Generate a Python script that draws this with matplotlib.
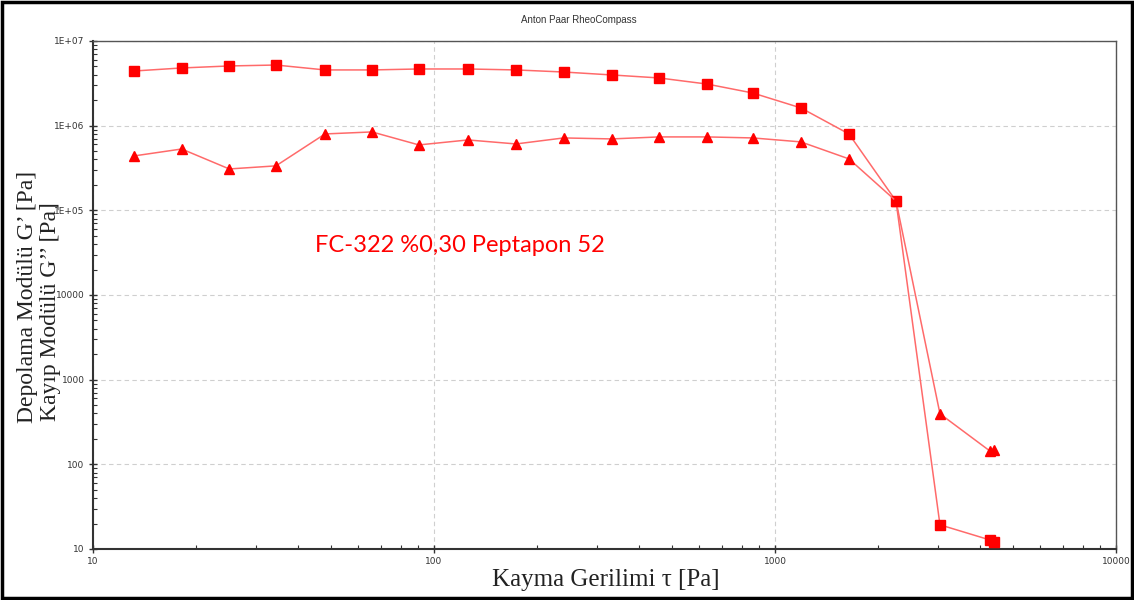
import numpy as np
import matplotlib
matplotlib.use("Agg")
import matplotlib.pyplot as plt
from matplotlib.ticker import FixedLocator, FixedFormatter, LogLocator, NullFormatter
from matplotlib.patches import Rectangle

# veriler
stress = [13.2, 18.2, 25.1, 34.4, 47.9, 65.8, 90.3, 125.8, 174, 240, 332, 457,
          632, 861, 1191, 1648, 2264, 3047, 4266, 4385]
g_storage = [4.42e6, 4.8e6, 5.07e6, 5.2e6, 4.55e6, 4.55e6, 4.67e6, 4.67e6, 4.55e6,
             4.3e6, 3.97e6, 3.66e6, 3.1e6, 2.43e6, 1.62e6, 7.98e5, 1.29e5, 19.3, 12.8, 12.2]
g_loss = [4.39e5, 5.3e5, 3.08e5, 3.35e5, 7.98e5, 8.43e5, 5.92e5, 6.78e5, 6.08e5,
          7.16e5, 6.97e5, 7.36e5, 7.36e5, 7.16e5, 6.43e5, 4.05e5, 1.29e5, 395, 144, 148]

y_ticks = [10, 100, 1000, 1e4, 1e5, 1e6, 1e7]
y_labels = ['10', '100', '1000', '10000', '1E+05', '1E+06', '1E+07']
x_ticks = [10, 100, 1000, 10000]
x_labels = ['10', '100', '1000', '10000']

fig = plt.figure(figsize=(11.34, 6), dpi=100)
ax = fig.add_axes([0.082, 0.085, 0.9021, 0.8467])

line_col = '#ff6a6a'
ax.plot(stress, g_storage, color=line_col, lw=1.1, marker='s', ms=7,
        mfc='#ff0000', mec='#ff0000', zorder=3)
ax.plot(stress, g_loss, color=line_col, lw=1.1, marker='^', ms=7,
        mfc='#ff0000', mec='#ff0000', zorder=3)

ax.set_xscale('log')
ax.set_yscale('log')
ax.set_xlim(10, 10000)
ax.set_ylim(10, 1e7)

ax.yaxis.set_major_locator(FixedLocator(y_ticks))
ax.yaxis.set_major_formatter(FixedFormatter(y_labels))
ax.xaxis.set_major_locator(FixedLocator(x_ticks))
ax.xaxis.set_major_formatter(FixedFormatter(x_labels))
ax.yaxis.set_minor_locator(LogLocator(base=10, subs=np.arange(2, 10)))
ax.xaxis.set_minor_locator(LogLocator(base=10, subs=np.arange(2, 10)))
ax.yaxis.set_minor_formatter(NullFormatter())
ax.xaxis.set_minor_formatter(NullFormatter())

ax.tick_params(which='major', direction='inout', length=6, width=1, color='#333333',
               labelsize=6.5, labelcolor='#333333', pad=3)
ax.tick_params(which='minor', direction='in', length=3, width=0.8, color='#333333')

ax.grid(True, which='major', ls=(0, (4, 3)), color='#cfcfcf', lw=0.8)

for s in ['left', 'bottom']:
    ax.spines[s].set_color('#333333')
    ax.spines[s].set_linewidth(1.5)
for s in ['top', 'right']:
    ax.spines[s].set_color('#555555')
    ax.spines[s].set_linewidth(1.0)

fig.text(0.51, 0.966, 'Anton Paar RheoCompass', ha='center', va='center',
         fontsize=7, color='#333333', family='Liberation Sans')

ax.text(0.217, 0.598, 'FC-322 %0,30 Peptapon 52', transform=ax.transAxes,
        color='#ff0000', fontsize=17, family='Lato', ha='left', va='center')

fig.text(0.0245, 0.505, "Depolama Modülü G’ [Pa]", rotation=90, ha='center', va='center',
         fontsize=17, family='Liberation Serif', color='#222222')
fig.text(0.0445, 0.48, "Kayıp Modülü G’’ [Pa]", rotation=90, ha='center', va='center',
         fontsize=17, family='Liberation Serif', color='#222222')
fig.text(0.5344, 0.033, 'Kayma Gerilimi τ [Pa]', ha='center', va='center',
         fontsize=18, family='Liberation Serif', color='#222222')

fig.patches.append(Rectangle((0.002, 0.004), 0.996, 0.992, transform=fig.transFigure,
                             fill=False, ec='black', lw=2.5))

fig.savefig('out.png', dpi=100)
